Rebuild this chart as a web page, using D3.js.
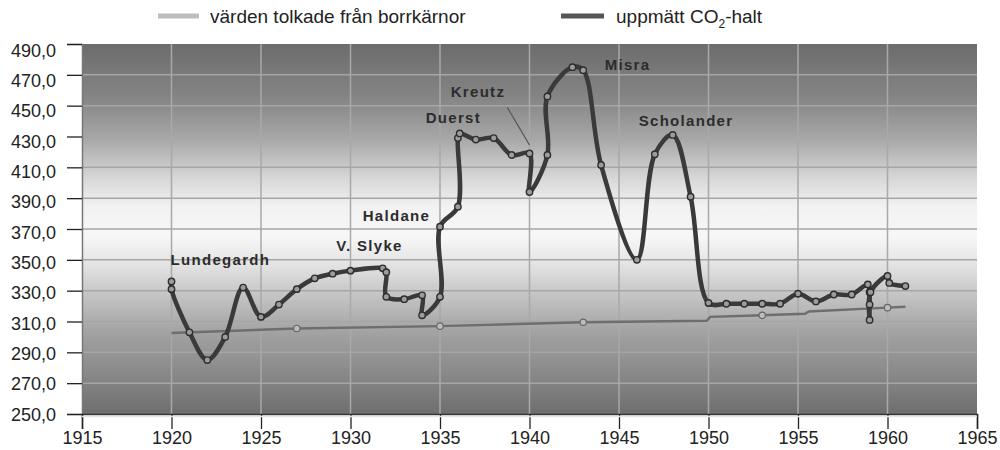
<!DOCTYPE html>
<html>
<head>
<meta charset="utf-8">
<script src="https://cdn.jsdelivr.net/npm/d3@7"></script>
<style>
  body { margin: 0; background: #fff; }
  svg { display: block; font-family: "Liberation Sans", Arial, sans-serif; }
</style>
</head>
<body>
<svg width="1000" height="450"></svg>
<script>
// uppmätt CO2-halt (measured series)
const measuredYears = [1920, 1920, 1921, 1922, 1923, 1924, 1925, 1926, 1927, 1928, 1929, 1930, 1931.8, 1932, 1932, 1933, 1934, 1934, 1935,
  1935, 1936, 1936, 1936.1, 1937, 1938, 1939, 1940, 1940, 1941, 1941, 1942.4, 1943, 1944, 1946, 1947, 1948, 1949,
  1950, 1951, 1952, 1953, 1954, 1955, 1956, 1957, 1958, 1958.9, 1959, 1959, 1959, 1959.05, 1960, 1960.1, 1961];
const measuredValues = [336, 331, 303, 285, 300, 332, 313, 321, 331, 338, 341, 343, 344.5, 342, 326, 324.5, 327, 314, 326,
  371.5, 384.5, 429, 432, 428, 429, 418, 419, 394, 418, 456, 475, 473, 411.5, 350, 418.5, 431, 391,
  322, 321.5, 321.5, 321.5, 321.5, 328, 323, 327.5, 327.5, 334, 329, 321, 311, 329, 339.5, 335, 333];

// värden tolkade från borrkärnor (ice core series)
const coreYears = [1920, 1927, 1935, 1943, 1949.9, 1950.1, 1953, 1955.4, 1955.6, 1960, 1961];
const coreValues = [302.5, 305.5, 307, 309.5, 310.5, 313, 314, 315, 316.5, 319, 319.5];
const coreSampleYears = [1927, 1935, 1943, 1953, 1960];
const coreSampleValues = [305.5, 307, 309.5, 314, 319];

// names written on the chart
const annoNames = ["Lundegardh", "V. Slyke", "Haldane", "Duerst", "Kreutz", "Misra", "Scholander"];
const annoYears = [1919.95, 1929.2, 1934.45, 1934.2, 1935.6, 1944.2, 1946.1];
const annoValues = [346.5, 355.5, 375.5, 438.5, 455.5, 473, 437];
const annoAnchors = ["start", "start", "end", "start", "start", "start", "start"];

const xTicks = d3.range(1915, 1966, 5);
const yTicks = d3.range(250, 491, 20);

const svg = d3.select("svg");
const x = d3.scaleLinear().domain([1915, 1965]).range([82, 977]);
const y = d3.scaleLinear().domain([250, 490]).range([414, 44]);
const yLabel = d3.scaleLinear().domain([250, 490]).range([414, 50]);
const fmt = d => d3.format(".1f")(d).replace(".", ",");

// background gradient (scanned look)
const defs = svg.append("defs");
const grad = defs.append("linearGradient").attr("id", "bg")
  .attr("x1", 0).attr("y1", 0).attr("x2", 0).attr("y2", 1);
[[0, "#6c6c6c"], [0.15, "#868686"], [0.26, "#a9a9a9"], [0.36, "#d6d6d6"], [0.44, "#f2f2f2"],
 [0.52, "#f7f7f7"], [0.6, "#e2e2e2"], [0.68, "#c4c4c4"], [0.78, "#a2a2a2"], [0.89, "#898989"], [1, "#6e6e6e"]]
  .forEach(s => grad.append("stop").attr("offset", s[0]).attr("stop-color", s[1]));

svg.append("rect")
  .attr("x", x(1915)).attr("y", y(490))
  .attr("width", x(1965) - x(1915)).attr("height", y(250) - y(490))
  .attr("fill", "url(#bg)");

// grid
svg.append("g").selectAll("line")
  .data(yTicks.slice(1, -1)).enter().append("line")
  .attr("x1", x(1915)).attr("x2", x(1965))
  .attr("y1", d => y(d)).attr("y2", d => y(d))
  .style("stroke", "#a6a6a6").style("stroke-width", 1.5);
svg.append("g").selectAll("line")
  .data(xTicks.slice(1, -1)).enter().append("line")
  .attr("x1", d => x(d)).attr("x2", d => x(d))
  .attr("y1", y(490)).attr("y2", y(250))
  .style("stroke", "#a9a9a9").style("stroke-width", 1.5);

// axes
const yAxis = svg.append("g")
  .attr("transform", `translate(${x(1915)},0)`)
  .call(d3.axisLeft(y).tickValues(yTicks).tickSize(15).tickFormat(fmt));
yAxis.select(".domain").style("stroke", "#777").style("stroke-width", 1.5);
yAxis.selectAll(".tick line").style("stroke", "#222").style("stroke-width", 1.3);
yAxis.selectAll(".tick text")
  .attr("x", -26)
  .attr("dy", "0.35em")
  .attr("transform", d => `translate(0,${yLabel(d) - y(d)})`)
  .style("font-size", "18px").style("fill", "#222")
  .style("font-family", "Liberation Sans, Arial, sans-serif");

const xAxis = svg.append("g")
  .attr("transform", `translate(0,${y(250)})`)
  .call(d3.axisBottom(x).tickValues(xTicks).tickSize(15).tickFormat(d3.format("d")));
xAxis.select(".domain").style("stroke", "#333").style("stroke-width", 1.5);
xAxis.selectAll(".tick line").style("stroke", "#222").style("stroke-width", 1.3);
xAxis.selectAll(".tick text")
  .attr("y", 17)
  .style("font-size", "18px").style("fill", "#222")
  .style("font-family", "Liberation Sans, Arial, sans-serif");
svg.append("line")
  .attr("x1", x(1915)).attr("x2", x(1965))
  .attr("y1", y(250) + 2.5).attr("y2", y(250) + 2.5)
  .style("stroke", "#e6e6e6").style("stroke-width", 1.5);

// ice core line
const coreLine = d3.line().x(d => x(d[0])).y(d => y(d[1]));
svg.append("path")
  .attr("d", coreLine(coreYears.map((d, i) => [d, coreValues[i]])))
  .style("fill", "none").style("stroke", "#6e6e6e").style("stroke-width", 2.5);
svg.append("g").selectAll("circle")
  .data(coreSampleYears.map((d, i) => [d, coreSampleValues[i]]))
  .enter().append("circle")
  .attr("cx", d => x(d[0])).attr("cy", d => y(d[1])).attr("r", 3.2)
  .style("fill", "#bdbdbd").style("stroke", "#666").style("stroke-width", 1.2);

// measured line
const measured = measuredYears.map((d, i) => [d, measuredValues[i]]);
const line = d3.line()
  .x(d => x(d[0])).y(d => y(d[1]))
  .curve(d3.curveCatmullRom.alpha(0.5));
svg.append("path")
  .attr("d", line(measured))
  .style("fill", "none").style("stroke", "#3a3a3a").style("stroke-width", 4.5)
  .style("stroke-linejoin", "round");
svg.append("g").selectAll("circle")
  .data(measured).enter().append("circle")
  .attr("cx", d => x(d[0])).attr("cy", d => y(d[1])).attr("r", 3.2)
  .style("fill", "#9c9c9c").style("stroke", "#2e2e2e").style("stroke-width", 1.4);

// names
svg.append("g").selectAll("text")
  .data(annoNames).enter().append("text")
  .attr("x", (d, i) => x(annoYears[i]))
  .attr("y", (d, i) => y(annoValues[i]))
  .attr("text-anchor", (d, i) => annoAnchors[i])
  .style("font-size", "15px").style("font-weight", "bold")
  .style("letter-spacing", "1.3px").style("fill", "#2c2c2c")
  .text(d => d);

// Kreutz pointer
svg.append("line")
  .attr("x1", x(1938.75)).attr("y1", y(449))
  .attr("x2", x(1940)).attr("y2", y(424.5))
  .style("stroke", "#555").style("stroke-width", 1.2);

// legend
const legend = svg.append("g");
legend.append("line")
  .attr("x1", 158).attr("x2", 199).attr("y1", 16).attr("y2", 16)
  .style("stroke", "#bdbdc0").style("stroke-width", 5);
legend.append("text")
  .attr("x", 210).attr("y", 23)
  .style("font-size", "19px").style("fill", "#222")
  .text("värden tolkade från borrkärnor");
legend.append("line")
  .attr("x1", 561).attr("x2", 604).attr("y1", 16).attr("y2", 16)
  .style("stroke", "#555").style("stroke-width", 5);
const t2 = legend.append("text")
  .attr("x", 616).attr("y", 23)
  .style("font-size", "19px").style("fill", "#222");
t2.append("tspan").text("uppmätt CO");
t2.append("tspan").attr("dy", 5).style("font-size", "12px").text("2");
t2.append("tspan").attr("dy", -5).text("-halt");
</script>
</body>
</html>
